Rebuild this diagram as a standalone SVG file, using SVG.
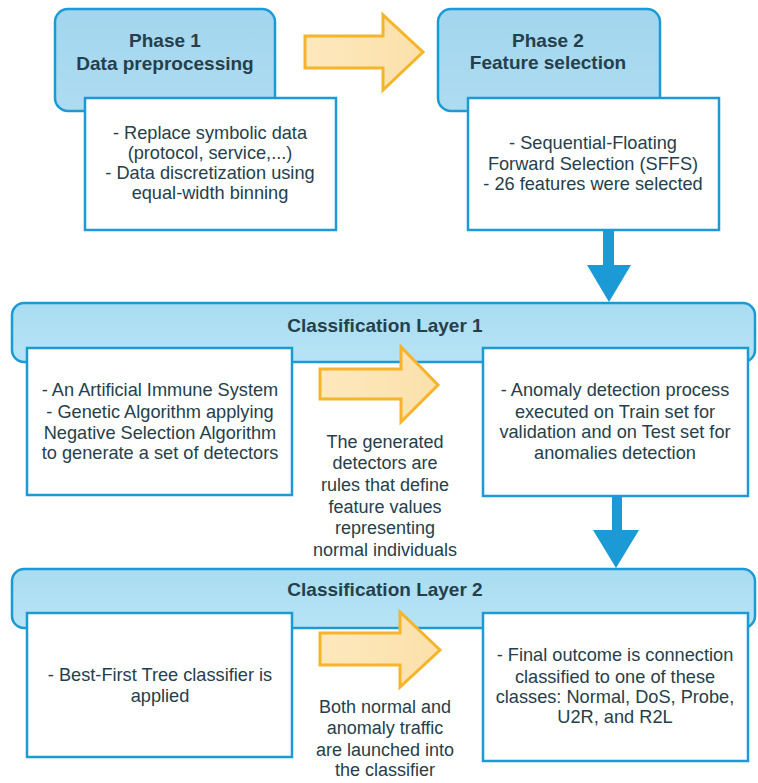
<svg xmlns="http://www.w3.org/2000/svg" width="758" height="783" viewBox="0 0 758 783">
<defs>
<style>
.hdr{fill:url(#hg);stroke:#1b9ad6;stroke-width:2.5}
.band{fill:url(#bg);stroke:#1b9ad6;stroke-width:2.5}
.box{fill:#ffffff;stroke:#1b9ad6;stroke-width:2.5}
.oarr{fill:url(#og);stroke:#f6b42a;stroke-width:3;stroke-linejoin:miter}
.barr{fill:#1b9ad6}
text{font-family:"Liberation Sans",Arial,sans-serif;fill:#25404b;text-anchor:middle}
.t{font-size:18.2px}
.m{font-size:18px}
.b{font-size:19px;font-weight:bold}
</style>
<linearGradient id="hg" x1="0" y1="0" x2="0" y2="1">
<stop offset="0" stop-color="#a2d6ee"/>
<stop offset="1" stop-color="#aedcf1"/>
</linearGradient>
<linearGradient id="bg" x1="0" y1="0" x2="0" y2="1">
<stop offset="0" stop-color="#a9dcf1"/>
<stop offset="1" stop-color="#b6e4f5"/>
</linearGradient>
<linearGradient id="og" x1="0" y1="0" x2="1" y2="0">
<stop offset="0" stop-color="#fde8bd"/>
<stop offset="1" stop-color="#fbe0aa"/>
</linearGradient>
</defs>
<rect width="758" height="783" fill="#ffffff"/>

<g id="phase1">
<rect class="hdr" x="55" y="9" width="220" height="102" rx="13"/>
<text class="b" x="165" y="47">Phase 1</text>
<text class="b" x="165" y="70">Data preprocessing</text>
</g>
<g id="phase1-body">
<rect class="box" x="85" y="98" width="251" height="132"/>
<text class="t" x="210" y="139">- Replace symbolic data</text>
<text class="t" x="210" y="159">(protocol, service,...)</text>
<text class="t" x="210" y="179">- Data discretization using</text>
<text class="t" x="210" y="199">equal-width binning</text>
</g>

<g id="phase2">
<rect class="hdr" x="438" y="9" width="222" height="102" rx="13"/>
<text class="b" x="548" y="47">Phase 2</text>
<text class="b" x="548" y="69">Feature selection</text>
</g>
<g id="phase2-body">
<rect class="box" x="468" y="98" width="251" height="132"/>
<text class="t" x="593" y="149">- Sequential-Floating</text>
<text class="t" x="593" y="170">Forward Selection (SFFS)</text>
<text class="t" x="593" y="190">- 26 features were selected</text>
</g>

<g id="layer1">
<rect class="band" x="12" y="303" width="743" height="59" rx="12"/>
<text class="b" x="385" y="332">Classification Layer 1</text>
</g>
<g id="layer1-left">
<rect class="box" x="27" y="348" width="265" height="147"/>
<text class="t" x="160" y="396">- An Artificial Immune System</text>
<text class="t" x="160" y="418">- Genetic Algorithm applying</text>
<text class="t" x="160" y="439">Negative Selection Algorithm</text>
<text class="t" x="160" y="459">to generate a set of detectors</text>
</g>
<g id="layer1-right">
<rect class="box" x="483" y="348" width="265" height="148"/>
<text class="t" x="615" y="396">- Anomaly detection process</text>
<text class="t" x="615" y="418">executed on Train set for</text>
<text class="t" x="615" y="438">validation and on Test set for</text>
<text class="t" x="615" y="459">anomalies detection</text>
</g>
<g id="layer1-note">
<text class="m" x="385" y="448">The generated</text>
<text class="m" x="385" y="469">detectors are</text>
<text class="m" x="385" y="491">rules that define</text>
<text class="m" x="385" y="513">feature values</text>
<text class="m" x="385" y="534">representing</text>
<text class="m" x="385" y="556">normal individuals</text>
</g>

<g id="layer2">
<rect class="band" x="12" y="569" width="743" height="59" rx="12"/>
<text class="b" x="385" y="596">Classification Layer 2</text>
</g>
<g id="layer2-left">
<rect class="box" x="27" y="613" width="265" height="144"/>
<text class="t" x="160" y="681">- Best-First Tree classifier is</text>
<text class="t" x="160" y="702">applied</text>
</g>
<g id="layer2-right">
<rect class="box" x="483" y="613" width="265" height="148"/>
<text class="t" x="615" y="661">- Final outcome is connection</text>
<text class="t" x="615" y="683">classified to one of these</text>
<text class="t" x="615" y="703">classes: Normal, DoS, Probe,</text>
<text class="t" x="615" y="723">U2R, and R2L</text>
</g>
<g id="layer2-note">
<text class="m" x="385" y="713">Both normal and</text>
<text class="m" x="385" y="734">anomaly traffic</text>
<text class="m" x="385" y="756">are launched into</text>
<text class="m" x="385" y="776">the classifier</text>
</g>

<g id="connectors">
<polygon class="oarr" points="305,36 383,36 383,15 423,52 383,90 383,68 305,68"/>
<polygon class="oarr" points="320,369 401,369 401,347 438,385 401,422 401,399 320,399"/>
<polygon class="oarr" points="320,633 400,633 400,612 440,650 400,687 400,665 320,665"/>
<rect class="barr" x="603" y="229" width="11" height="37"/>
<polygon class="barr" points="587,265 631,265 609,302"/>
<rect class="barr" x="612" y="495" width="10" height="36"/>
<polygon class="barr" points="593,530 639,530 616,568"/>
</g>
</svg>
